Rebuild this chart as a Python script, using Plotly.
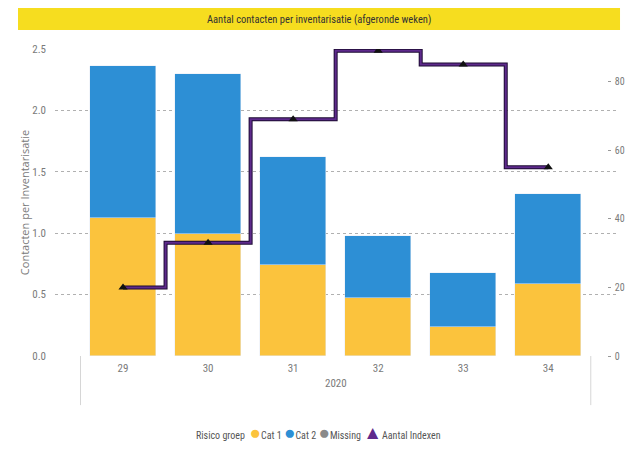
import plotly.graph_objects as go

weeks = ["29", "30", "31", "32", "33", "34"]
cat1 = [1.12, 0.99, 0.74, 0.47, 0.24, 0.59]
cat2 = [1.24, 1.31, 0.88, 0.51, 0.44, 0.73]
aantal_indexen = [20, 33, 69, 89, 85, 55]

x = list(range(len(weeks)))
narrow = "Liberation Sans Narrow, Arial Narrow, Roboto Condensed, Roboto, sans-serif"
grey = "#7a7a7a"
c_cat1 = "#FBC33D"
c_cat2 = "#2D8FD5"
c_missing = "#8a8a8a"
c_purple = "#5E2A8C"

fig = go.Figure()
fig.add_trace(go.Bar(x=x, y=cat1, name="Cat 1", marker_color=c_cat1, width=0.78, showlegend=False))
fig.add_trace(go.Bar(x=x, y=cat2, name="Cat 2", marker_color=c_cat2, width=0.78, showlegend=False))

# step line: dark outline + purple core
fig.add_trace(go.Scatter(x=x, y=aantal_indexen, yaxis="y2", mode="lines",
                         line=dict(shape="hvh", color="#1d0b33", width=4), showlegend=False, hoverinfo="skip"))
fig.add_trace(go.Scatter(x=x, y=aantal_indexen, yaxis="y2", mode="lines",
                         line=dict(shape="hvh", color=c_purple, width=2), showlegend=False))
fig.add_trace(go.Scatter(x=x, y=aantal_indexen, yaxis="y2", mode="markers", name="Aantal Indexen",
                         marker=dict(symbol="triangle-up", size=8, color="#111111"), showlegend=False))

fig.update_layout(
    width=633, height=449,
    margin=dict(l=55, r=15, t=49, b=93, autoexpand=False),
    paper_bgcolor="white", plot_bgcolor="white",
    barmode="stack", bargap=0,
    font=dict(family=narrow, size=11, color=grey),
    xaxis=dict(range=[-0.8, 5.82], tickvals=x, ticktext=weeks, showgrid=False,
               zeroline=False, showline=False, ticks="", ticklabelstandoff=4,
               automargin=False, tickfont=dict(size=11, color=grey)),
    yaxis=dict(range=[0, 2.5], dtick=0.5, tickformat=".1f", showgrid=True,
               gridcolor="#b0b0b0", griddash="dot", gridwidth=1, zeroline=False,
               ticks="", ticklabelstandoff=8, automargin=False, tickfont=dict(size=11, color=grey),
               title=dict(text="Contacten per Inventarisatie", standoff=0,
                          font=dict(family="Open Sans, sans-serif", size=11, color=grey))),
    yaxis2=dict(range=[0, 89.5], overlaying="y", side="right", anchor="free", position=0.98,
                tickvals=[0, 20, 40, 60, 80], showgrid=False, zeroline=False,
                ticks="outside", ticklen=3, tickcolor="#999", showline=False, automargin=False,
                ticklabelstandoff=2, tickfont=dict(size=10, color=grey)),
    showlegend=False,
)

# title band
fig.add_shape(type="rect", xref="paper", yref="paper", x0=-0.0657, x1=1.0036, y0=1.0619, y1=1.1336,
              fillcolor="#F6DD1F", line_width=0, layer="below")
fig.add_annotation(text="Aantal contacten per inventarisatie (afgeronde weken)", xref="paper", yref="paper",
                   x=0.469, y=1.0977, showarrow=False, xanchor="center", yanchor="middle",
                   font=dict(family=narrow, size=10.5, color="#333333"))

# hierarchy box of the x axis
for xv in [-0.5, 5.5]:
    fig.add_shape(type="line", xref="x", yref="paper", x0=xv, x1=xv, y0=0, y1=-0.16,
                  line=dict(color="#d6d6d6", width=1))
fig.add_annotation(text="2020", xref="x", yref="paper", x=2.5, y=-0.117, showarrow=False,
                   font=dict(family=narrow, size=11, color=grey))

# legend
dot = "<span style='color:{};font-size:19px'>{}</span>"
legend_text = ("Risico groep  "
               + dot.format(c_cat1, "●") + "Cat 1 "
               + dot.format(c_cat2, "●") + "Cat 2 "
               + dot.format(c_missing, "●") + "Missing "
               + dot.format(c_purple, "▲") + "Aantal Indexen")
fig.add_annotation(text=legend_text, xref="paper", yref="paper", x=0.468, y=-0.25,
                   showarrow=False, xanchor="center", yanchor="middle",
                   font=dict(family=narrow, size=10, color="#555555"))

fig.write_html("out.html", config={"displayModeBar": False},
               post_script="document.body.style.margin='0';")
